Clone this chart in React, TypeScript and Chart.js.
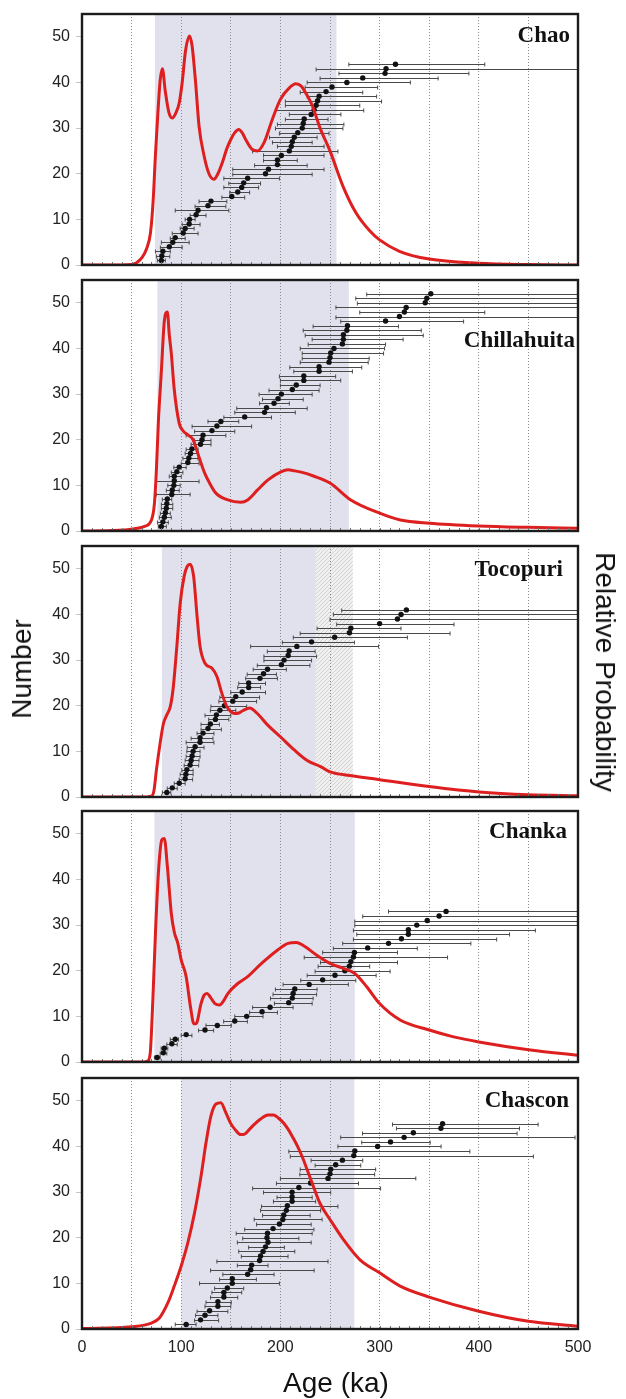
import { useEffect, useRef } from "react";
import { Chart, registerables } from "chart.js";

Chart.register(...registerables);

// ---------- shared axes ----------
const AGE_MIN = 0;
const AGE_MAX = 500;
const AGE_GRID_STEP = 50;
const AGE_LABEL_STEP = 100;
const AGE_MINOR_STEP = 10;
const NUM_MIN = 0;
const NUM_MAX = 55;
const NUM_TICK_STEP = 10;

// ---------- Chao ----------
const chaoBand = [73.5, 256.5];
const chaoCurveAge = [0, 40, 50, 55, 60, 65, 69, 71.7, 74, 76.4, 78.8, 81, 84, 87.5, 91, 95, 98, 101, 104.4, 108.4, 111, 114.5, 118, 123, 128, 133, 137, 141.4, 146, 150, 154, 158, 162, 165, 171.7, 177, 183.5, 192, 200, 209, 215.5, 221, 226, 232, 240, 250, 263, 276, 290, 300, 320, 350, 400, 450, 500];
const chaoCurveProb = [0, 0, 0.1, 0.5, 1.5, 3.5, 7, 14, 24, 33, 40.5, 43, 38, 33.5, 32.2, 33.5, 35.5, 40, 47, 50.2, 48, 40, 30.4, 24, 20, 18.8, 20, 22.4, 25.5, 27.5, 29, 29.7, 28.8, 27.5, 25.3, 25, 26.8, 32, 36.3, 38.8, 39.7, 39.2, 37.5, 35, 30, 25, 17.3, 11.5, 7.5, 5.5, 3, 1.3, 0.4, 0.1, 0];
const chaoAge = [80, 80.5, 81.5, 88, 91.5, 94, 102, 104, 108, 108.5, 115, 117, 127, 130, 151, 157, 161, 163, 167, 185, 188, 197, 197, 201, 209, 211, 212, 214, 217.5, 222, 223, 224, 231, 234, 236, 237.5, 239, 246, 252, 267, 283, 305.5, 306.5, 316];
const chaoLo = [76, 75, 74, 79, 80, 89, 91, 99, 101, 104, 109, 94, 114, 118, 141, 149, 143, 148, 143, 152, 152, 174, 183, 183, 172, 197, 192, 189, 199, 195, 197, 205, 209, 195, 205, 205, 227, 220, 225, 227, 240, 259, 236, 269];
const chaoHi = [84, 88.5, 89, 101, 108, 104, 117, 113, 119, 114, 125, 148, 145, 146, 164, 169, 178, 180, 199, 232, 244, 227, 217, 244, 258, 244, 232, 237, 249, 263, 264, 248, 261, 284, 280, 302, 297, 283, 298, 331, 359, 390, 500, 406];

// ---------- Chillahuita ----------
const chillBand = [76, 269];
const chillCurveAge = [0, 30, 49.5, 63, 70, 73, 75, 77, 80, 83, 86, 88, 90, 93, 98, 101.7, 107, 112, 116, 120, 124, 128.6, 135, 147, 160, 167, 177, 187.5, 201, 207.7, 214, 221, 234, 250, 271, 300, 321, 350, 400, 450, 500];
const chillCurveProb = [0, 0.1, 0.4, 1, 2.4, 6, 13.4, 24, 35, 46, 48, 43, 39, 31, 23.6, 22, 21, 20, 17.5, 14.9, 12.5, 10.5, 8.3, 6.8, 6.3, 6.8, 9, 11.2, 13, 13.4, 13.2, 12.9, 12, 10.5, 6.8, 3.9, 2.4, 1.7, 1.1, 0.8, 0.6];
const chillAge = [80, 81.5, 83, 84, 85, 85.5, 86, 90.5, 91, 92.6, 93, 93, 95.6, 98, 106.7, 107.7, 109.4, 110.8, 119.5, 121, 122, 131, 136, 140, 164, 184, 186, 193.6, 197.6, 201, 212, 216, 223.6, 223.6, 239, 239, 249, 250, 250.7, 254, 262.5, 263.5, 263.5, 267, 267.6, 306, 320, 325, 326.8, 346, 347.6, 351.6];
const chillLo = [77, 76, 78, 79, 80, 80, 81, 75, 85, 86.5, 75, 88, 90, 92.6, 100, 101.7, 104, 105, 110, 113.5, 105, 113.5, 111, 127, 143, 154, 156, 179, 182, 178.5, 188.5, 200, 200, 199, 213.5, 209.5, 220, 222, 222, 220, 228, 232, 225, 223, 233, 260.8, 256, 280, 256, 277.6, 276, 287];
const chillHi = [85, 87, 90, 89, 91.5, 91.5, 90.5, 109, 98, 99, 118, 100, 101.7, 105, 118, 117, 117, 117, 130, 130, 145, 154, 171, 158, 191, 215, 227, 209, 223, 232, 239, 240, 260.8, 255.7, 272.6, 282, 288.5, 289.5, 304, 305, 306, 323.7, 344, 342, 319, 384.7, 500, 406, 500, 500, 500, 500];

// ---------- Tocopuri ----------
const tocoBand = [80.5, 235.8];
const tocoHatch = [235.8, 273];
const tocoCurveAge = [0, 60, 70, 72.6, 75, 78.7, 82, 85.5, 89, 92, 95.6, 99, 103, 106, 109, 112.5, 116, 119, 124, 131, 136, 141, 146, 150, 154, 158, 162, 169, 176.7, 187, 200, 214, 227, 241, 250, 270, 300, 350, 400, 450, 500];
const tocoCurveProb = [0, 0, 0.2, 1.5, 5.9, 11.7, 16, 18, 19.8, 24, 33, 42.5, 48.4, 50.5, 51, 48.4, 39.6, 33, 29.3, 28.2, 26.4, 22.7, 19.8, 18.7, 18.3, 18.4, 18.9, 19.5, 18.3, 15.8, 13.2, 10.3, 8, 6.6, 5.5, 4.7, 3.8, 2.3, 1.1, 0.5, 0.3];
const tocoAge = [85.5, 91, 98, 104, 104.7, 105.7, 109, 110, 111, 112, 114, 119, 119, 122, 127, 129.4, 134.5, 135.5, 139, 143.6, 152, 155, 161.5, 168, 168, 179.4, 183, 187, 201, 203.7, 207.8, 208.8, 216.6, 231.4, 254.7, 269.6, 271, 300, 318, 321.6, 327];
const tocoLo = [81, 86, 93, 98, 99, 100.7, 103, 104, 105, 105.7, 106, 105, 110, 116, 120, 120, 127.7, 124, 129.4, 130, 138, 139, 150, 157, 158, 165, 166.5, 172.6, 176.7, 183.4, 183.4, 186.8, 170, 202, 213, 220, 237, 256.8, 250, 253.4, 261.8];
const tocoHi = [89.5, 96, 104, 111.5, 112, 112, 117.6, 118, 119, 119, 123, 133, 132, 133, 140.5, 138.5, 148, 150, 155, 166, 176, 179, 185, 180, 185, 197, 196, 206, 229.7, 231.4, 236.5, 235, 299, 274.6, 328, 371, 321.6, 375, 500, 500, 500];

// ---------- Chanka ----------
const chankaBand = [73, 275];
const chankaCurveAge = [0, 60, 66, 68.7, 71.4, 74, 77, 80.5, 83, 86, 90, 93, 96.6, 100, 105, 109.4, 112.8, 115, 120, 123, 126, 130, 134, 138.7, 143, 147, 157, 167, 181, 197.6, 207.7, 216, 224.6, 236, 250, 263.5, 275, 287, 300, 320.7, 350, 374.6, 400, 450, 500];
const chankaCurveProb = [0, 0, 0.2, 1.8, 13.5, 28, 41.4, 48.7, 49, 43, 32.6, 28.5, 26, 22.4, 18.7, 12, 8.4, 8.4, 12.8, 14.6, 15, 14, 12.8, 12.5, 13.5, 15, 17.2, 18.7, 21.6, 24.6, 26, 26.2, 25.3, 23.5, 21.6, 20.5, 19.4, 16.5, 12.8, 9.2, 7, 5.5, 4.4, 2.7, 1.5];
const chankaAge = [75.8, 82, 83, 90.6, 94, 105, 124, 136.4, 154, 166, 181.5, 189.6, 208.4, 212, 212.8, 214.5, 229, 242.6, 255, 265, 269.5, 271, 273.6, 274.6, 288, 309, 322, 329, 329, 337.5, 348, 360, 367];
const chankaLo = [73, 78.8, 79.8, 85.5, 89, 100, 117.5, 125, 142.8, 154, 169, 172, 194, 190, 192.6, 195, 202.7, 220.5, 227, 235, 238, 240.5, 224, 242.6, 253.4, 262.8, 273.6, 277, 273.6, 275, 275, 283, 309];
const chankaHi = [78.8, 85.5, 86.5, 96, 97.3, 110.8, 132.7, 150.5, 166.7, 182.5, 197, 212.8, 232, 233, 236.5, 237, 268.5, 276, 296.5, 310.6, 290, 318, 368.5, 318, 338, 392, 418, 431, 457, 500, 500, 500, 500];

// ---------- Chascon ----------
const chasconBand = [100, 274.5];
const chasconCurveAge = [0, 50, 70, 78, 86.5, 93, 100, 106.7, 113.5, 120, 125, 130, 135, 140, 145, 150, 154, 160, 164, 169, 174, 180, 187.5, 193, 197.6, 203, 207.7, 213, 217.8, 223, 228, 234, 240, 250, 263.5, 280, 300, 320.7, 350, 400, 450, 500];
const chasconCurveProb = [0.1, 0.5, 1.3, 2.4, 5.7, 9.4, 13.8, 18.9, 25.5, 33.5, 40.8, 46.7, 49.3, 49.6, 47.4, 45, 43.8, 42.6, 42.7, 43.8, 44.9, 46, 46.9, 46.9, 46.3, 45.2, 43.8, 41.8, 39.8, 37.2, 34.3, 30.8, 27.5, 24, 19.6, 15.2, 12.3, 9.4, 7, 3.9, 1.7, 0.6];
const chasconAge = [105, 119.5, 124, 128.6, 137, 137, 143, 143, 146.5, 151.5, 151.5, 167, 170, 171, 179, 180, 182.5, 185, 187.5, 186.5, 187, 192.6, 199, 202.4, 203.4, 206, 207, 211.8, 211.8, 211.8, 218.6, 230.4, 248, 250, 250.7, 255.7, 262.5, 274, 275, 298, 311, 324.7, 334, 361.8, 363.5];
const chasconLo = [94, 113.5, 114.5, 116, 124, 125, 129.6, 131, 133.7, 118.5, 138.7, 142, 129.6, 156.6, 136, 160.6, 158, 168, 156.6, 162, 155.5, 164, 176, 173.6, 182, 180, 181, 193, 196.6, 183, 172, 196, 200, 219.6, 220, 235, 231, 210, 208.5, 258, 282, 260.8, 282.8, 317, 313];
const chasconHi = [115, 137.7, 137, 147, 150, 150.5, 157, 161, 163, 199, 175.8, 193.6, 234, 187.5, 248, 207.7, 214.5, 204, 231, 218.6, 232, 233.8, 231, 242, 230, 240.5, 258, 235.5, 232, 250.7, 301, 278.7, 336.5, 295, 296, 281, 283, 455, 391, 362, 351, 497, 438.6, 441, 459.8];

type PanelSpec = {
  name: string;
  band: number[];
  hatch: number[] | null;
  curveAge: number[];
  curveProb: number[];
  age: number[];
  lo: number[];
  hi: number[];
  titleRight: number;
  titleCenterY: number;
};

const PANELS: PanelSpec[] = [
  { name: "Chao", band: chaoBand, hatch: null, curveAge: chaoCurveAge, curveProb: chaoCurveProb, age: chaoAge, lo: chaoLo, hi: chaoHi, titleRight: 570, titleCenterY: 35 },
  { name: "Chillahuita", band: chillBand, hatch: null, curveAge: chillCurveAge, curveProb: chillCurveProb, age: chillAge, lo: chillLo, hi: chillHi, titleRight: 575, titleCenterY: 340 },
  { name: "Tocopuri", band: tocoBand, hatch: tocoHatch, curveAge: tocoCurveAge, curveProb: tocoCurveProb, age: tocoAge, lo: tocoLo, hi: tocoHi, titleRight: 563, titleCenterY: 569 },
  { name: "Chanka", band: chankaBand, hatch: null, curveAge: chankaCurveAge, curveProb: chankaCurveProb, age: chankaAge, lo: chankaLo, hi: chankaHi, titleRight: 567, titleCenterY: 831 },
  { name: "Chascon", band: chasconBand, hatch: null, curveAge: chasconCurveAge, curveProb: chasconCurveProb, age: chasconAge, lo: chasconLo, hi: chasconHi, titleRight: 569, titleCenterY: 1100 },
];

// ---------- layout ----------
const PAGE_W = 626;
const PAGE_H = 1399;
const PLOT_LEFT = 82;
const PLOT_RIGHT = 578;
const PLOT_H = 251;
const PANEL_TOPS = [14, 280, 546, 811, 1078];
const PAD_T = 20;
const PAD_B = 4;

const SANS = "'Liberation Sans', Arial, Helvetica, sans-serif";
const SERIF = "'Liberation Serif', 'Times New Roman', serif";
const RED = "#de1f1f";
const BAND_COLOR = "#e0e1ed";

function panelPlugin(spec: PanelSpec) {
  return {
    id: "panelDecor",
    beforeDraw(chart: any) {
      const { ctx, chartArea: a, scales } = chart;
      const x = scales.x;
      ctx.save();
      const b0 = x.getPixelForValue(spec.band[0]);
      const b1 = x.getPixelForValue(spec.band[1]);
      ctx.fillStyle = BAND_COLOR;
      ctx.fillRect(b0, a.top, b1 - b0, a.bottom - a.top);
      if (spec.hatch) {
        const h0 = x.getPixelForValue(spec.hatch[0]);
        const h1 = x.getPixelForValue(spec.hatch[1]);
        ctx.fillStyle = "#f1f1f1";
        ctx.fillRect(h0, a.top, h1 - h0, a.bottom - a.top);
        ctx.beginPath();
        ctx.rect(h0, a.top, h1 - h0, a.bottom - a.top);
        ctx.clip();
        ctx.strokeStyle = "#cfcfcf";
        ctx.lineWidth = 1;
        const hgt = a.bottom - a.top;
        ctx.beginPath();
        for (let s = h0 - hgt; s < h1 + 4; s += 4) {
          ctx.moveTo(s, a.bottom);
          ctx.lineTo(s + hgt, a.top);
        }
        ctx.stroke();
      }
      ctx.restore();
    },
    beforeDatasetsDraw(chart: any) {
      const { ctx, chartArea: a, scales } = chart;
      const x = scales.x;
      const y = scales.y;
      ctx.save();
      ctx.beginPath();
      ctx.rect(a.left, a.top, a.right - a.left, a.bottom - a.top);
      ctx.clip();
      ctx.strokeStyle = "#4a4a4a";
      ctx.lineWidth = 1;
      spec.age.forEach((_, i) => {
        const py = Math.round(y.getPixelForValue(i + 1)) + 0.5;
        const xl = x.getPixelForValue(spec.lo[i]);
        const xr = x.getPixelForValue(spec.hi[i]);
        ctx.beginPath();
        ctx.moveTo(xl, py);
        ctx.lineTo(xr, py);
        ctx.moveTo(xl, py - 2);
        ctx.lineTo(xl, py + 2);
        ctx.moveTo(xr, py - 2);
        ctx.lineTo(xr, py + 2);
        ctx.stroke();
      });
      ctx.restore();
    },
    afterDraw(chart: any) {
      const { ctx, chartArea: a, scales } = chart;
      const x = scales.x;
      ctx.save();
      ctx.strokeStyle = "#777";
      ctx.lineWidth = 1;
      ctx.beginPath();
      for (let v = AGE_MIN + AGE_MINOR_STEP; v < AGE_MAX; v += AGE_MINOR_STEP) {
        const px = Math.round(x.getPixelForValue(v)) + 0.5;
        ctx.moveTo(px, a.bottom);
        ctx.lineTo(px, a.bottom - 3);
      }
      ctx.stroke();
      ctx.strokeStyle = "#1c1c1c";
      ctx.lineWidth = 2.4;
      ctx.strokeRect(a.left, a.top, a.right - a.left, a.bottom - a.top);
      ctx.restore();
    },
  };
}

function Panel({ spec, index }: { spec: PanelSpec; index: number }) {
  const ref = useRef<HTMLCanvasElement>(null);
  const isLast = index === PANELS.length - 1;
  const xAxisH = isLast ? 40 : 16;
  const canvasH = PAD_T + PLOT_H + xAxisH + PAD_B;

  useEffect(() => {
    const canvas = ref.current;
    if (!canvas) return;
    const chart = new Chart(canvas, {
      type: "scatter",
      data: {
        datasets: [
          {
            type: "line",
            label: "Relative probability",
            data: spec.curveAge.map((a, i) => ({ x: a, y: spec.curveProb[i] })),
            borderColor: RED,
            borderWidth: 3,
            pointRadius: 0,
            fill: false,
            cubicInterpolationMode: "monotone",
            order: 0,
          } as any,
          {
            type: "scatter",
            label: "Sample ages",
            data: spec.age.map((a, i) => ({ x: a, y: i + 1 })),
            pointRadius: 2.7,
            pointBackgroundColor: "#111",
            pointBorderWidth: 0,
            order: 1,
          } as any,
        ],
      },
      options: {
        responsive: false,
        animation: false,
        devicePixelRatio: 1,
        events: [],
        layout: { padding: { left: 0, right: PAGE_W - PLOT_RIGHT, top: PAD_T, bottom: PAD_B } },
        plugins: { legend: { display: false }, tooltip: { enabled: false } },
        scales: {
          x: {
            type: "linear",
            min: AGE_MIN,
            max: AGE_MAX,
            afterFit: (s: any) => {
              s.height = xAxisH;
            },
            ticks: {
              display: isLast,
              stepSize: AGE_GRID_STEP,
              autoSkip: false,
              maxRotation: 0,
              padding: 9,
              color: "#222",
              font: { family: SANS, size: 16 },
              callback: (v: any) => (Number(v) % AGE_LABEL_STEP === 0 ? String(v) : ""),
            },
            grid: {
              drawTicks: false,
              lineWidth: 1,
              color: (c: any) => {
                const v = c.tick ? c.tick.value : 0;
                return v > AGE_MIN && v < AGE_MAX ? "#8a8a8a" : "rgba(0,0,0,0)";
              },
            },
            border: { display: false, dash: [1, 2] },
          },
          y: {
            type: "linear",
            min: NUM_MIN,
            max: NUM_MAX,
            afterFit: (s: any) => {
              s.width = PLOT_LEFT;
            },
            ticks: {
              stepSize: NUM_TICK_STEP,
              includeBounds: false,
              padding: 6,
              color: "#222",
              font: { family: SANS, size: 16 },
            },
            grid: { drawOnChartArea: false, drawTicks: true, tickLength: 6, color: "#c4c4c4" },
            border: { display: false },
          },
        },
      } as any,
      plugins: [panelPlugin(spec)],
    });
    return () => chart.destroy();
  }, []);

  return (
    <canvas
      ref={ref}
      width={PAGE_W}
      height={canvasH}
      style={{ position: "absolute", left: 0, top: PANEL_TOPS[index] - PAD_T, width: PAGE_W, height: canvasH }}
    />
  );
}

export default function App() {
  return (
    <div style={{ position: "absolute", left: 0, top: 0, width: PAGE_W, height: PAGE_H, background: "#fff", overflow: "hidden" }}>
      {PANELS.map((p, i) => (
        <Panel key={p.name} spec={p} index={i} />
      ))}
      {PANELS.map((p) => (
        <div
          key={p.name + "-title"}
          style={{
            position: "absolute",
            right: PAGE_W - p.titleRight,
            top: p.titleCenterY - 12,
            fontFamily: SERIF,
            fontWeight: "bold",
            fontSize: 23,
            lineHeight: "23px",
            color: "#111",
            whiteSpace: "nowrap",
          }}
        >
          {p.name}
        </div>
      ))}
      <div
        style={{
          position: "absolute",
          left: 22,
          top: 669,
          transform: "translate(-50%, -50%) rotate(-90deg)",
          fontFamily: SANS,
          fontSize: 28,
          lineHeight: "28px",
          color: "#111",
          whiteSpace: "nowrap",
        }}
      >
        Number
      </div>
      <div
        style={{
          position: "absolute",
          left: 605,
          top: 672,
          transform: "translate(-50%, -50%) rotate(90deg)",
          fontFamily: SANS,
          fontSize: 28,
          lineHeight: "28px",
          color: "#111",
          whiteSpace: "nowrap",
        }}
      >
        Relative Probability
      </div>
      <div
        style={{
          position: "absolute",
          left: 336,
          top: 1383,
          transform: "translate(-50%, -50%)",
          fontFamily: SANS,
          fontSize: 28,
          lineHeight: "28px",
          color: "#111",
          whiteSpace: "nowrap",
        }}
      >
        Age (ka)
      </div>
    </div>
  );
}
